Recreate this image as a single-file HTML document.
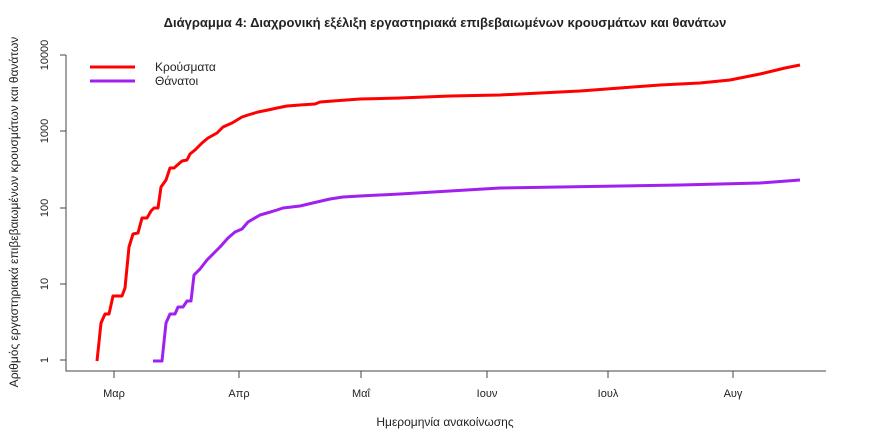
<!DOCTYPE html>
<html><head><meta charset="utf-8"><style>
body{margin:0;background:#fff}
svg{display:block}
text{font-family:"Liberation Sans","DejaVu Sans",sans-serif;fill:#222}
</style></head><body>
<svg width="880" height="438" viewBox="0 0 880 438" xmlns="http://www.w3.org/2000/svg">
<text x="445" y="27" text-anchor="middle" font-size="13" font-weight="bold" fill="#000">Διάγραμμα 4: Διαχρονική εξέλιξη εργαστηριακά επιβεβαιωμένων κρουσμάτων και θανάτων</text>
<g stroke="#444" stroke-width="1" fill="none">
<path d="M66 55V371H826"/>
<path d="M60 55H66M60 131H66M60 208H66M60 284H66M60 360H66"/>
<path d="M114 371V378M239 371V378M361 371V378M487 371V378M608 371V378M733 371V378"/>
</g>
<g font-size="11" text-anchor="middle">
<text transform="translate(48,55) rotate(-90)">10000</text>
<text transform="translate(48,131) rotate(-90)">1000</text>
<text transform="translate(48,208) rotate(-90)">100</text>
<text transform="translate(48,284) rotate(-90)">10</text>
<text transform="translate(48,360) rotate(-90)">1</text>
<text x="114" y="397">Μαρ</text>
<text x="239" y="397">Απρ</text>
<text x="361" y="397">Μαΐ</text>
<text x="487" y="397">Ιουν</text>
<text x="608" y="397">Ιουλ</text>
<text x="733" y="397">Αυγ</text>
<text x="445" y="426" font-size="12">Ημερομηνία ανακοίνωσης</text>
<text transform="translate(18,212) rotate(-90)" font-size="12">Αριθμός εργαστηριακά επιβεβαιωμένων κρουσμάτων και θανάτων</text>
</g>
<polyline fill="none" stroke="#ff0000" stroke-width="3" stroke-linejoin="round" points="97,361 101,323 105,314 109,314 113,296 122,296 125,288 129,247 133,234 138,233 142,218 147,218 151,211 154,208 158,208 161,187 166,180 170,168 174,168 182,161 187,160 190,154 195,150 202,143 208,138 217,133 223,127 232,123 242,117 248,115 258,112 268,110 277,108 287,106 300,105 315,104 320,102 333,101 360,99 400,98 450,96 500,95 540,93 580,91 620,88 660,85 700,83 730,80 760,74 785,68 800,65"/>
<polyline fill="none" stroke="#a020f0" stroke-width="3" stroke-linejoin="round" points="153,361 162,361 166,323 170,314 175,314 178,307 183,307 187,301 191,301 194,275 200,269 207,260 215,252 220,247 228,238 235,232 242,229 248,222 260,215 267,213 277,210 283,208 300,206 317,202 330,199 343,197 360,196 400,194 450,191 500,188 560,187 620,186 680,185 720,184 760,183 800,180"/>
<path d="M90 67H135" stroke="#ff0000" stroke-width="3"/>
<path d="M90 81H135" stroke="#a020f0" stroke-width="3"/>
<text x="155" y="71" font-size="12">Κρούσματα</text>
<text x="155" y="85" font-size="12">Θάνατοι</text>
</svg>
</body></html>
